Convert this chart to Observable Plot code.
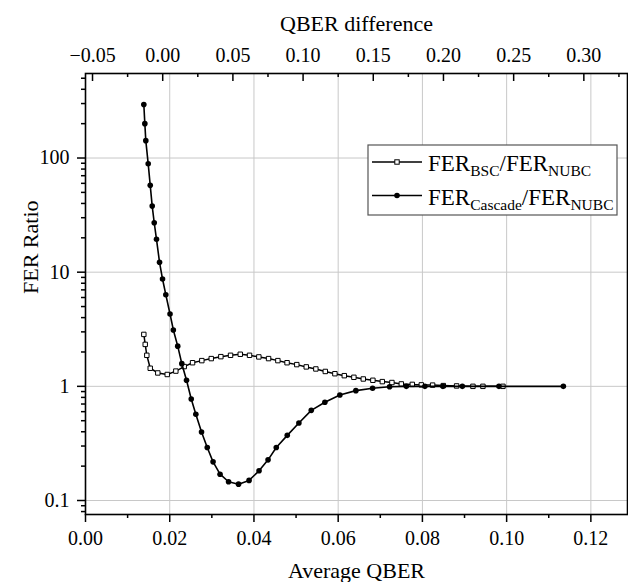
<!DOCTYPE html>
<html><head><meta charset="utf-8">
<script src="https://cdn.jsdelivr.net/npm/d3@7"></script>
<script src="https://cdn.jsdelivr.net/npm/@observablehq/plot@0.6"></script>
<style>body{margin:0;background:#fff}</style>
</head><body><div id="chart"></div>
<script>
// Series: FER_Cascade / FER_NUBC
const qberCascade = [0.01385,0.01409,0.01432,0.01489,0.01537,0.01584,0.01632,0.01686,0.01758,0.01829,0.01907,0.02007,0.02086,0.02190,0.02287,0.02399,0.02511,0.02620,0.02755,0.02891,0.03029,0.03195,0.03397,0.03634,0.03884,0.04121,0.04335,0.04530,0.04791,0.05067,0.05361,0.05684,0.06040,0.06420,0.06817,0.07221,0.07618,0.08059,0.08487,0.08948,0.09817,0.11347];
const ratioCascade = [294,200,142,89,57.6,37.9,27.1,19.4,12.2,8.71,6.35,4.30,3.12,2.25,1.58,1.13,0.774,0.569,0.398,0.291,0.218,0.170,0.146,0.139,0.150,0.182,0.227,0.291,0.372,0.477,0.616,0.725,0.839,0.917,0.961,0.993,1.0,1.0,1.0,1.0,1.0,1.0];
// Series: FER_BSC / FER_NUBC
const qberBSC = [0.01385,0.01418,0.01456,0.01537,0.01717,0.01941,0.02145,0.02344,0.02542,0.02762,0.02986,0.03214,0.03444,0.03675,0.03895,0.04116,0.04347,0.04568,0.04786,0.05017,0.05242,0.05470,0.05694,0.05922,0.06145,0.06373,0.06596,0.06824,0.07048,0.07276,0.07499,0.07760,0.07974,0.08242,0.08496,0.08812,0.09200,0.09437,0.09912];
const ratioBSC = [2.85,2.33,1.87,1.44,1.31,1.27,1.36,1.49,1.61,1.68,1.75,1.82,1.87,1.91,1.87,1.81,1.75,1.68,1.61,1.55,1.48,1.42,1.35,1.29,1.24,1.20,1.16,1.13,1.10,1.08,1.05,1.04,1.03,1.025,1.015,1.008,1.0,1.0,1.0];

// Tick values
const xTicks = [0, 0.02, 0.04, 0.06, 0.08, 0.10, 0.12];
const xMinorTicks = [0.01, 0.03, 0.05, 0.07, 0.09, 0.11];
const topTicks = [-0.05, 0, 0.05, 0.10, 0.15, 0.20, 0.25, 0.30];
const topMinorTicks = [-0.025, 0.025, 0.075, 0.125, 0.175, 0.225, 0.275, 0.325];
const yTicks = [0.1, 1, 10, 100];
const yMinorTicks = [0.08,0.09,0.2,0.3,0.4,0.5,0.6,0.7,0.8,0.9,2,3,4,5,6,7,8,9,20,30,40,50,60,70,80,90,200,300,400,500];

// QBER difference (top axis) relates linearly to average QBER
const diffToQber = d => (d + 0.055) / 3;
const qberToDiff = q => { let v = Math.round((3 * q - 0.055) * 1000) / 1000; return Math.abs(v) < 1e-9 ? 0 : v; };

const W = 628, H = 582, mt = 73, mr = 1, mb = 68, ml = 85;
const frameH = H - mt - mb;

const cascade = qberCascade.map((q, i) => ({q, r: ratioCascade[i]}));
const bsc = qberBSC.map((q, i) => ({q, r: ratioBSC[i]}));
const f2 = d3.format(".2f");
const serif = "'Liberation Serif', 'Times New Roman', serif";

const plot = Plot.plot({
  width: W, height: H,
  marginTop: mt, marginRight: mr, marginBottom: mb, marginLeft: ml,
  style: {fontFamily: serif, fontSize: "20px", background: "white", color: "black"},
  x: {domain: [0, 0.1287], label: null},
  y: {type: "log", domain: [0.0754, 550], label: null},
  marks: [
    Plot.ruleX(xTicks.slice(1), {stroke: "#c8c8c8", strokeWidth: 1}),
    Plot.ruleY(yTicks, {stroke: "#c8c8c8", strokeWidth: 1}),
    Plot.frame({stroke: "black", strokeWidth: 1.6}),
    Plot.axisX({ticks: xTicks, anchor: "bottom", tickSize: 8, tickPadding: 8, tickFormat: f2, strokeWidth: 1.5, fontSize: 20, label: null}),
    Plot.axisX({ticks: xMinorTicks, anchor: "bottom", tickSize: 4, tickFormat: () => "", strokeWidth: 1.5, label: null}),
    Plot.axisX({ticks: topTicks.map(diffToQber), anchor: "top", tickSize: 0, tickPadding: 12, tickFormat: q => f2(qberToDiff(q)), fontSize: 20, label: null}),
    Plot.tickX(topTicks.map(diffToQber), {x: d => d, insetBottom: frameH - 8, strokeWidth: 1.5}),
    Plot.tickX(topMinorTicks.map(diffToQber), {x: d => d, insetBottom: frameH - 4, strokeWidth: 1.5}),
    Plot.axisY({ticks: yTicks, anchor: "left", tickSize: 8, tickPadding: 8, tickFormat: d => String(d), strokeWidth: 1.5, fontSize: 20, label: null}),
    Plot.axisY({ticks: yMinorTicks, anchor: "left", tickSize: 4, tickFormat: () => "", strokeWidth: 1.5, label: null}),
    Plot.text(["Average QBER"], {text: d => d, frameAnchor: "bottom", dy: 63, lineAnchor: "bottom", fontSize: 22}),
    Plot.text(["QBER difference"], {text: d => d, frameAnchor: "top", dy: -43, lineAnchor: "bottom", fontSize: 22}),
    Plot.text(["FER Ratio"], {text: d => d, frameAnchor: "left", dx: -55, rotate: -90, fontSize: 22}),
    Plot.line(bsc, {x: "q", y: "r", stroke: "black", strokeWidth: 1.5}),
    Plot.dot(bsc, {x: "q", y: "r", symbol: "square", r: 2.5, fill: "white", stroke: "black", strokeWidth: 1}),
    Plot.line(cascade, {x: "q", y: "r", stroke: "black", strokeWidth: 1.6}),
    Plot.dot(cascade, {x: "q", y: "r", r: 2.8, fill: "black", stroke: "none"})
  ]
});

// Legend (drawn on top of the plot area)
const svg = d3.select(plot);
const lg = svg.append("g").attr("font-family", serif).attr("text-anchor", "start");
lg.append("rect").attr("x", 368).attr("y", 145).attr("width", 249).attr("height", 70)
  .attr("fill", "white").attr("stroke", "#555").attr("stroke-width", 1.2);
const rows = [
  {y: 162, base: 170.5, sub1: "BSC", square: true},
  {y: 195.5, base: 205, sub1: "Cascade", square: false}
];
rows.forEach(r => {
  lg.append("line").attr("x1", 372).attr("x2", 422).attr("y1", r.y).attr("y2", r.y).attr("stroke", "black").attr("stroke-width", 1.5);
  if (r.square) lg.append("rect").attr("x", 397 - 2.2).attr("y", r.y - 2.2).attr("width", 4.4).attr("height", 4.4).attr("fill", "white").attr("stroke", "black");
  else lg.append("circle").attr("cx", 397).attr("cy", r.y).attr("r", 2.8).attr("fill", "black");
  const t = lg.append("text").attr("x", 428).attr("y", r.base).attr("font-size", 23).attr("fill", "black").attr("text-anchor", "start");
  t.append("tspan").text("FER");
  t.append("tspan").attr("font-size", 15.5).attr("dy", 5).text(r.sub1);
  t.append("tspan").attr("dy", -5).text("/FER");
  t.append("tspan").attr("font-size", 15.5).attr("dy", 5).text("NUBC");
});

document.getElementById("chart").appendChild(plot);
</script>
</body></html>
